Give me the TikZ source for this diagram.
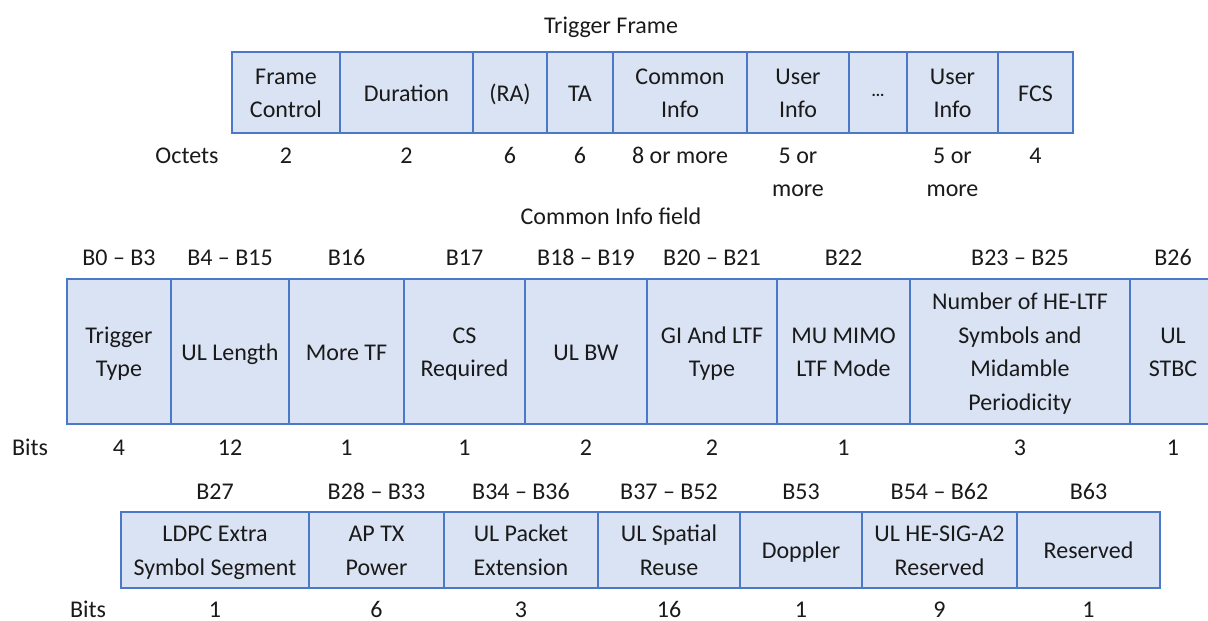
\documentclass[tikz,border=0pt]{standalone}
\usepackage{fontspec}
\setmainfont{Carlito}
\definecolor{fieldfill}{HTML}{DAE3F3}
\definecolor{fieldline}{HTML}{4C78C8}
\definecolor{ink}{HTML}{1A1A1A}
% struts that give every text line the same height and depth
\newcommand\topstrut{\rule{0pt}{23pt}}
\newcommand\botstrut{\rule[-6pt]{0pt}{0pt}}
% one field of a frame: name, left, top, right, bottom (px, y downwards), text
\newcommand\fld[6]{%
  \node[field, minimum width={#4-#2}, minimum height={#5-#3}] (#1)
    at ({(#2+#4)/2},{(#3+#5)/2}) {\topstrut#6\botstrut};}
\begin{document}
\begin{tikzpicture}[x=1pt, y=-1pt,
  field/.style={draw=fieldline, fill=fieldfill, line width=1.8pt,
    inner sep=0pt, align=center, text=ink,
    font=\fontsize{24}{33.5}\selectfont},
  lbl/.style={text=ink, inner sep=0pt, align=center,
    font=\fontsize{24}{33}\selectfont},
  one/.style={lbl, text height=20pt, text depth=4pt}]
\clip (0,0) rectangle (1208,621);
\fill[white] (0,0) rectangle (1208,621);

% ---------- Trigger frame ----------
\node[one] (tftitle) at (611,25) {Trigger Frame};
\fld{fc}{232}{52}{340}{133}{Frame\\Control}
\fld{dur}{340}{52}{473}{133}{Duration}
\fld{ra}{473}{52}{547}{133}{(RA)}
\fld{ta}{547}{52}{613}{133}{TA}
\fld{ci}{613}{52}{747}{133}{Common\\Info}
\fld{ui1}{747}{52}{849}{133}{User\\Info}
\fld{dots}{849}{52}{907}{133}{\raisebox{5pt}{\fontsize{16}{16}\selectfont\textbf{...}}}
\fld{ui2}{907}{52}{998}{133}{User\\Info}
\fld{fcs}{998}{52}{1073}{133}{FCS}

\node[one] (octets) at (187,155) {Octets};
\node[one] (ofc) at ([yshift=-22pt]fc.south) {2};
\node[one] (odur) at ([yshift=-22pt]dur.south) {2};
\node[one] (ora) at ([yshift=-22pt]ra.south) {6};
\node[one] (ota) at ([yshift=-22pt]ta.south) {6};
\node[one] (oci) at ([yshift=-22pt]ci.south) {8 or more};
\node[lbl, anchor=north] (oui1) at ([yshift=-14pt]ui1.south) {5 or\\more};
\node[lbl, anchor=north] (oui2) at ([yshift=-14pt]ui2.south) {5 or\\more};
\node[one] (ofcs) at ([yshift=-22pt]fcs.south) {4};

% ---------- Common Info field, first part ----------
\node[one] (cititle) at (611,216) {Common Info field};
\fld{tt}{67}{279}{171}{424}{Trigger\\Type}
\fld{ull}{171}{279}{289}{424}{UL Length}
\fld{mtf}{289}{279}{404}{424}{More TF}
\fld{csr}{404}{279}{525}{424}{CS\\Required}
\fld{ulbw}{525}{279}{647}{424}{UL BW}
\fld{gi}{647}{279}{777}{424}{GI And LTF\\Type}
\fld{mu}{777}{279}{910}{424}{MU MIMO\\LTF Mode}
\fld{nhe}{910}{279}{1130}{424}{Number of HE-LTF\\Symbols and\\Midamble\\Periodicity}
\fld{stbc}{1130}{279}{1216}{424}{UL\\STBC}

\foreach \f/\b in {tt/B0 – B3, ull/B4 – B15, mtf/B16, csr/B17, ulbw/B18 – B19,
                   gi/B20 – B21, mu/B22, nhe/B23 – B25, stbc/B26}
  \node[one] (pos-\f) at ([yshift=21pt]\f.north) {\b};
\node[one] (bits1) at (30,447) {Bits};
\foreach \f/\n in {tt/4, ull/12, mtf/1, csr/1, ulbw/2, gi/2, mu/1, nhe/3, stbc/1}
  \node[one] (len-\f) at ([yshift=-23pt]\f.south) {\n};

% ---------- Common Info field, second part ----------
\fld{ldpc}{121}{512}{309}{588}{LDPC Extra\\Symbol Segment}
\fld{aptx}{309}{512}{444}{588}{AP TX\\Power}
\fld{ulpe}{444}{512}{598}{588}{UL Packet\\Extension}
\fld{ulsr}{598}{512}{740}{588}{UL Spatial\\Reuse}
\fld{dop}{740}{512}{862}{588}{Doppler}
\fld{sig}{862}{512}{1017}{588}{UL HE-SIG-A2\\Reserved}
\fld{res}{1017}{512}{1160}{588}{Reserved}

\foreach \f/\b in {ldpc/B27, aptx/B28 – B33, ulpe/B34 – B36, ulsr/B37 – B52,
                   dop/B53, sig/B54 – B62, res/B63}
  \node[one] (pos-\f) at ([yshift=20pt]\f.north) {\b};
\node[one] (bits2) at (88,609) {Bits};
\foreach \f/\n in {ldpc/1, aptx/6, ulpe/3, ulsr/16, dop/1, sig/9, res/1}
  \node[one] (len-\f) at ([yshift=-21pt]\f.south) {\n};
\end{tikzpicture}
\end{document}
